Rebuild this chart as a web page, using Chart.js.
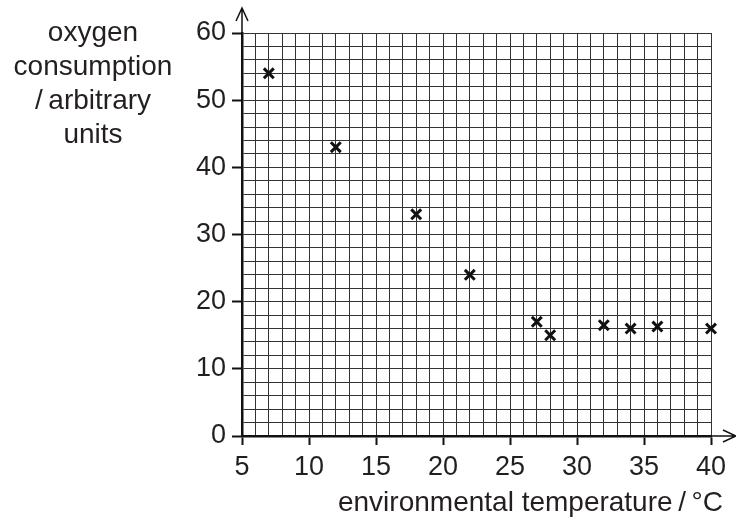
<!DOCTYPE html>
<html>
    <head>
        <meta charset="UTF-8">
        <title>Oxygen consumption</title>
        <script src="https://cdn.jsdelivr.net/npm/chart.js@4.4.1/dist/chart.umd.min.js"></script>
        <style>
            body{
                margin: 0;
                background-color: white;
            }
        </style>
    </head>
    <body>
        <canvas id="miCanvas" width="736" height="522"></canvas>
        <script>
            // values
            const temperatures = [7, 12, 18, 22, 27, 28, 32, 34, 36, 40];
            const oxygenUse = [54, 43, 33, 24, 17, 15, 16.5, 16, 16.3, 16];
            const yTitleLines = ["oxygen", "consumption", "/\u2009arbitrary", "units"];
            const xTitle = "environmental temperature\u2009/\u2009°C";

            const points = temperatures.map((t, i) => ({x: t, y: oxygenUse[i]}));
            const fontName = "'Liberation Sans', Arial, Helvetica, sans-serif";

            const extras = {
                id: "extras",
                afterDraw(chart){
                    const c = chart.ctx;
                    const a = chart.chartArea;
                    c.save();
                    c.strokeStyle = "#111";
                    c.lineWidth = 1.5;
                    // y axis arrow
                    c.beginPath();
                    c.moveTo(a.left, a.top);
                    c.lineTo(a.left, a.top - 24);
                    c.moveTo(a.left - 6, a.top - 12);
                    c.lineTo(a.left, a.top - 25);
                    c.lineTo(a.left + 6, a.top - 12);
                    c.stroke();
                    // x axis arrow
                    c.beginPath();
                    c.moveTo(a.right, a.bottom);
                    c.lineTo(a.right + 24, a.bottom);
                    c.moveTo(a.right + 12, a.bottom - 6);
                    c.lineTo(a.right + 25, a.bottom);
                    c.lineTo(a.right + 12, a.bottom + 6);
                    c.stroke();
                    // titles
                    c.fillStyle = "#231f20";
                    c.font = "28px " + fontName;
                    c.textAlign = "center";
                    c.textBaseline = "middle";
                    yTitleLines.forEach((line, i) => {
                        c.fillText(line, 93, a.top + i * 34);
                    });
                    c.textAlign = "right";
                    c.fillText(xTitle, a.right + 12, 503);
                    c.restore();
                }
            };

            const isMajor = (ctx) => ctx.tick && ctx.tick.value % 5 === 0;

            new Chart(document.getElementById("miCanvas"), {
                type: "scatter",
                data: {
                    datasets: [{
                        data: points,
                        clip: false,
                        pointStyle: "crossRot",
                        pointRadius: 7,
                        borderColor: "#111",
                        borderWidth: 3,
                        backgroundColor: "#111"
                    }]
                },
                options: {
                    responsive: false,
                    animation: false,
                    devicePixelRatio: 1,
                    layout: {padding: {left: 0, top: 33, right: 25, bottom: 0}},
                    plugins: {
                        legend: {display: false},
                        tooltip: {enabled: false}
                    },
                    scales: {
                        x: {
                            type: "linear",
                            min: 5,
                            max: 40,
                            afterFit: (scale) => { scale.height = 86; },
                            border: {display: true, color: "#111", width: 2.5},
                            grid: {
                                color: "#333",
                                lineWidth: 1,
                                tickLength: 9,
                                tickColor: (ctx) => isMajor(ctx) ? "#111" : "rgba(0,0,0,0)",
                                tickWidth: 2
                            },
                            ticks: {
                                stepSize: 1,
                                autoSkip: false,
                                maxRotation: 0,
                                padding: 6,
                                color: "#231f20",
                                font: {family: fontName, size: 27},
                                callback: (v) => v % 5 === 0 ? String(v) : ""
                            }
                        },
                        y: {
                            min: 0,
                            max: 60,
                            afterFit: (scale) => { scale.width = 242; },
                            border: {display: true, color: "#111", width: 2.5},
                            grid: {
                                color: "#333",
                                lineWidth: 1,
                                tickLength: 10,
                                tickColor: (ctx) => ctx.tick && ctx.tick.value % 10 === 0 ? "#111" : "rgba(0,0,0,0)",
                                tickWidth: 2
                            },
                            ticks: {
                                stepSize: 2,
                                autoSkip: false,
                                padding: 6,
                                color: "#231f20",
                                font: {family: fontName, size: 27},
                                callback: (v) => v % 10 === 0 ? String(v) : ""
                            }
                        }
                    }
                },
                plugins: [extras]
            });
        </script>
    </body>
</html>
